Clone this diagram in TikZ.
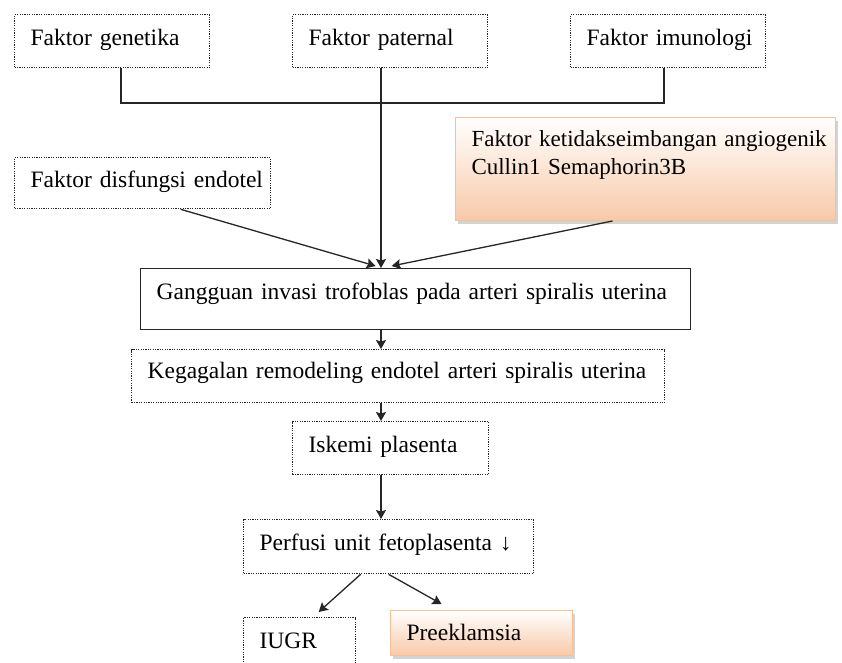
\documentclass[tikz,border=0pt]{standalone}
\usepackage{fontspec}
\setmainfont{Liberation Serif}
\usetikzlibrary{shadows,arrows.meta,scopes}
\definecolor{peach}{HTML}{F8C9A8}
\definecolor{peachline}{HTML}{F6BF96}
\definecolor{ink}{HTML}{262626}
\begin{document}
\begin{tikzpicture}[x=1pt,y=-1pt,>={Stealth[length=9pt,width=10pt,inset=1.5pt]}]
                        \tikzstyle{every node}=[rectangle,anchor=north west,inner xsep=16pt,inner ysep=0,align=left,font=\fontsize{23.5}{28}\selectfont,text height=18pt,text depth=10pt]
                        \tikzstyle{dotbox}=[draw=ink,line width=1.3pt,dash pattern=on 1.2pt off 1.2pt]
                        \tikzstyle{solidbox}=[draw=ink,line width=1.3pt]
                        \tikzstyle{peachbox}=[draw=peachline,line width=1pt,top color=white,bottom color=peach,drop shadow={shadow xshift=2pt,shadow yshift=-3pt,opacity=.35}]
                        \tikzstyle{link}=[draw=ink,line width=1.3pt]
                        \clip (0,0) rectangle (842,662);
                        {
                            % three factors on top
                            \node[dotbox,minimum width=195pt,minimum height=53pt,text width=163pt] (gen) at (14,14) {Faktor genetika};
                            \node[dotbox,minimum width=195pt,minimum height=53pt,text width=163pt] (pat) at (292,14) {Faktor paternal};
                            \node[dotbox,minimum width=195pt,minimum height=53pt,text width=163pt] (imu) at (570,14) {\mbox{Faktor imunologi}};
                            \node[peachbox,minimum width=380pt,text width=348pt,inner ysep=5pt,text height=24pt,text depth=69pt,font=\fontsize{23}{28}\selectfont] (angio) at (455,117) {\mbox{Faktor ketidakseimbangan angiogenik}\\Cullin1 Semaphorin3B};
                            \node[dotbox,minimum width=256pt,minimum height=51pt,text width=224pt] (disf) at (14,157) {\mbox{Faktor disfungsi endotel}};

                            % main chain
                            \node[solidbox,minimum width=550pt,minimum height=61pt,text width=518pt,text height=14pt,text depth=14pt] (gang) at (140,268) {Gangguan invasi trofoblas pada arteri spiralis uterina};
                            \node[dotbox,minimum width=533pt,minimum height=53pt,text width=501pt,text height=16pt,text depth=12pt] (keg) at (131,349) {Kegagalan remodeling endotel arteri spiralis uterina};
                            \node[dotbox,minimum width=196pt,minimum height=53pt,text width=164pt] (isk) at (292,421) {Iskemi plasenta};
                            \node[dotbox,minimum width=290pt,minimum height=54pt,text width=258pt] (perf) at (243,519) {\mbox{Perfusi unit fetoplasenta ↓}};
                            \node[dotbox,minimum width=112pt,minimum height=54pt,text width=80pt] (iugr) at (243,617) {IUGR};
                            \node[peachbox,minimum width=182pt,minimum height=45pt,text width=150pt,text height=20pt,text depth=5pt] (pre) at (390,610) {Preeklamsia};

                            \coordinate (genfoot) at (121,103);
                            \coordinate (imufoot) at (664,103);
                            \coordinate (axis) at (381,0);

                            \draw[link] (gen.south -| genfoot) -- (genfoot) -- (imufoot) -- (imu.south -| imufoot);
                            \draw[link,->] (pat.south -| axis) -- (gang.north -| axis);
                            \draw[link,->] ([xshift=38pt]disf.south) -- ([xshift=-40pt,yshift=2pt]gang.north);
                            \draw[link,->] ([xshift=-33pt]angio.south) -- ([xshift=-24pt,yshift=2pt]gang.north);
                            \draw[link,->] (gang.south -| axis) -- (keg.north -| axis);
                            \draw[link,->] (keg.south -| axis) -- (isk.north -| axis);
                            \draw[link,->] (isk.south -| axis) -- (perf.north -| axis);
                            \draw[link,->] ([xshift=-28pt]perf.south) -- ([xshift=19pt,yshift=5pt]iugr.north);
                            \draw[link,->] (perf.south) -- ([xshift=-40pt,yshift=6pt]pre.north);
                        }
                    \end{tikzpicture}
\end{document}
